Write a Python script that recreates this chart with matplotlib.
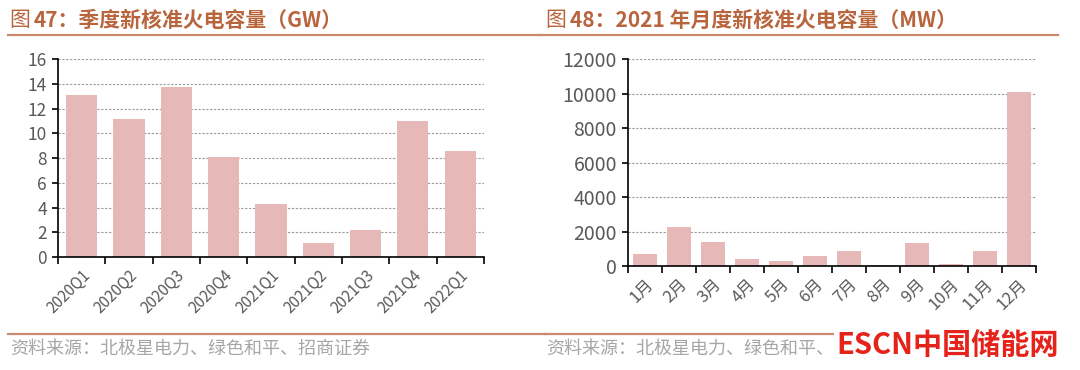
import matplotlib.pyplot as plt
import numpy as np

plt.rcParams['font.family'] = ['Noto Sans CJK SC', 'DejaVu Sans']

# quarterly new approved coal power capacity (GW)
quarters = ['2020Q1', '2020Q2', '2020Q3', '2020Q4', '2021Q1', '2021Q2', '2021Q3', '2021Q4', '2022Q1']
quarter_gw = [13.1, 11.15, 13.7, 8.05, 4.3, 1.1, 2.2, 11.0, 8.6]

# monthly 2021 new approved coal power capacity (MW)
months = ['1月', '2月', '3月', '4月', '5月', '6月', '7月', '8月', '9月', '10月', '11月', '12月']
month_mw = [700, 2260, 1390, 390, 270, 580, 850, 80, 1350, 100, 850, 10100]

bar_color = '#E6B8B7'
title_color = '#B8653E'
line_color = '#C98A6E'
tick_color = '#595959'

fig = plt.figure(figsize=(10.8, 3.7), dpi=100)


def style_axes(ax, labels, ymax, ystep, ysize, xsize):
    ax.set_xlim(-0.5, len(labels) - 0.5)
    ax.set_ylim(0, ymax)
    ax.set_yticks(np.arange(0, ymax + 1, ystep))
    ax.set_xticks(np.arange(len(labels)))
    ax.set_xticklabels(labels, rotation=45, ha='right', va='top', rotation_mode='anchor',
                       fontsize=xsize, color=tick_color)
    ax.tick_params(axis='x', length=0, pad=7)
    ax.set_xticks(np.arange(len(labels) + 1) - 0.5, minor=True)
    ax.tick_params(axis='x', which='minor', length=5, width=1.2, color='black', direction='out')
    ax.tick_params(axis='y', length=4, width=1.2, color='black', labelsize=ysize,
                   labelcolor=tick_color, pad=4)
    for s in ['top', 'right']:
        ax.spines[s].set_visible(False)
    for s in ['left', 'bottom']:
        ax.spines[s].set_linewidth(1.2)
    ax.yaxis.grid(True, linestyle=(0, (2, 1.5)), color='#9A9A9A', linewidth=0.8)
    ax.set_axisbelow(True)


ax1 = fig.add_axes([0.0537, 0.3054, 0.3943, 0.5351])
ax1.bar(np.arange(len(quarters)), quarter_gw, width=0.66, color=bar_color)
style_axes(ax1, quarters, 16, 2, 12.5, 11)

ax2 = fig.add_axes([0.5815, 0.281, 0.3775, 0.5595])
ax2.bar(np.arange(len(months)), month_mw, width=0.7, color=bar_color)
style_axes(ax2, months, 12000, 2000, 14, 12)

# titles
fig.text(0.009, 0.945, '图 ', fontsize=15, color=title_color, va='center')
fig.text(0.031, 0.945, '47：季度新核准火电容量（GW）', fontsize=15, color=title_color,
         va='center', fontweight='bold')
fig.text(0.506, 0.945, '图 ', fontsize=15, color=title_color, va='center')
fig.text(0.528, 0.945, '48：2021 年月度新核准火电容量（MW）', fontsize=15, color=title_color,
         va='center', fontweight='bold')

# rules under titles and above sources
fig.add_artist(plt.Line2D([0.007, 0.5], [0.905, 0.905], color=line_color, lw=1.6))
fig.add_artist(plt.Line2D([0.5, 0.98], [0.905, 0.905], color=line_color, lw=1.6))
fig.add_artist(plt.Line2D([0.007, 0.505], [0.097, 0.097], color=line_color, lw=1.6))
fig.add_artist(plt.Line2D([0.505, 0.98], [0.097, 0.097], color=line_color, lw=1.6))

src = '资料来源：北极星电力、绿色和平、招商证券'
fig.text(0.009, 0.057, src, fontsize=13, color='#A6A6A6', va='center')
fig.text(0.506, 0.057, src, fontsize=13, color='#A6A6A6', va='center')

# watermark
fig.text(0.98, 0.068, 'ESCN中国储能网', fontsize=21, color='#E5231B', fontweight='bold',
         ha='right', va='center',
         bbox=dict(facecolor='white', edgecolor='none', pad=1))

fig.savefig('out.png', dpi=100)
